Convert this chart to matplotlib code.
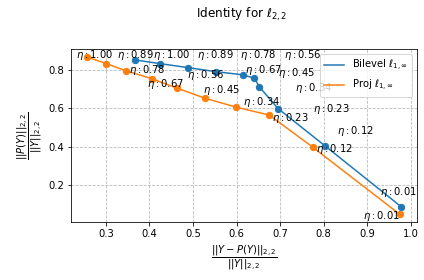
import matplotlib
matplotlib.use("Agg")
import matplotlib.pyplot as plt

# eta values shared by both curves
eta = [1.00, 0.89, 0.78, 0.67, 0.56, 0.45, 0.34, 0.23, 0.12, 0.01]

# Bilevel l_{1,inf}
bilevel_x = [0.367, 0.424, 0.489, 0.553, 0.614, 0.641, 0.652, 0.695, 0.802, 0.978]
bilevel_y = [0.851, 0.832, 0.811, 0.790, 0.774, 0.756, 0.712, 0.599, 0.407, 0.089]

# Proj l_{1,inf}
proj_x = [0.256, 0.301, 0.347, 0.405, 0.464, 0.528, 0.599, 0.675, 0.775, 0.974]
proj_y = [0.867, 0.832, 0.794, 0.754, 0.704, 0.652, 0.606, 0.565, 0.398, 0.051]

# label offsets (points) as laid out in the reference
bilevel_off = [(18, 5), (37, 9), (52, 13), (29, 2), (41, 20),
               (24, 5), (36, -1), (35, 0), (12, 15), (-21, 15)]
proj_off = [(-11, 2), (11, 9), (3, 1), (-5, -5), (10, 13),
            (-2, 8), (7, 5), (3, -3), (3, -2), (-37, -2)]

fig = plt.figure(figsize=(424 / 72, 280 / 72), dpi=72)
ax = fig.add_axes([71 / 424, 1 - 222 / 280, (417 - 71) / 424, (222 - 49) / 280])

ax.plot(bilevel_x, bilevel_y, color="#1f77b4", label=r"Bilevel $\ell_{1,\infty}$")
ax.scatter(bilevel_x, bilevel_y, color="#1f77b4", s=40, zorder=3)
ax.plot(proj_x, proj_y, color="#ff7f0e", label=r"Proj $\ell_{1,\infty}$")
ax.scatter(proj_x, proj_y, color="#ff7f0e", s=40, zorder=3)

for xs, ys, offs in [(bilevel_x, bilevel_y, bilevel_off), (proj_x, proj_y, proj_off)]:
    for x, y, e, (dx, dy) in zip(xs, ys, eta, offs):
        ax.annotate(rf"$\eta:{e:.2f}$", (x, y), xytext=(dx, dy),
                    textcoords="offset points", ha="left", va="center", fontsize=10)

ax.grid(True, ls="--", alpha=0.9, color="#b0b0b0")
ax.set_yticks([0.2, 0.4, 0.6, 0.8])
ax.set_xticks([0.3, 0.4, 0.5, 0.6, 0.7, 0.8, 0.9, 1.0])
ax.set_xticklabels(["0.3", "0.4", "0.5", "0.6", "0.7", "0.8", "0.9", "1.0"])
ax.set_xlabel(r"$\dfrac{||Y-P(Y)||_{2,2}}{||Y||_{2,2}}$", fontsize=10)
ax.set_ylabel(r"$\dfrac{||P(Y)||_{2,2}}{||Y||_{2,2}}$", fontsize=10)
ax.legend(loc="upper right")

fig.text(242 / 424, 1 - 14 / 280, r"Identity for $\ell_{2,2}$", ha="center", va="center", fontsize=12)

fig.savefig("out.png", dpi=72)
